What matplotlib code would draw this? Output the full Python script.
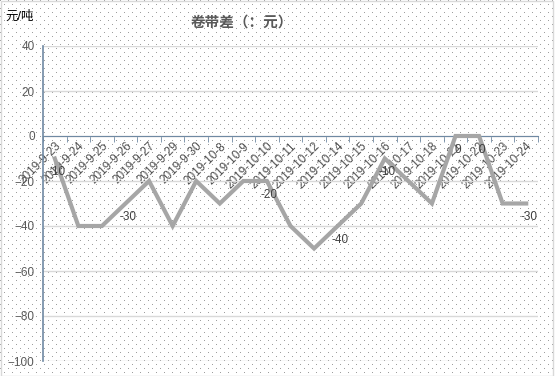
import numpy as np
import matplotlib
matplotlib.use('Agg')
import matplotlib.pyplot as plt
from matplotlib.ticker import FixedLocator

plt.rcParams['font.family'] = ['Liberation Sans', 'Noto Sans CJK SC', 'DejaVu Sans']

# datos
fechas = ['2019-9-23', '2019-9-24', '2019-9-25', '2019-9-26', '2019-9-27', '2019-9-29',
          '2019-9-30', '2019-10-8', '2019-10-9', '2019-10-10', '2019-10-11', '2019-10-12',
          '2019-10-14', '2019-10-15', '2019-10-16', '2019-10-17', '2019-10-18', '2019-10-21',
          '2019-10-22', '2019-10-23', '2019-10-24']
diferencia = [-10, -40, -40, -30, -20, -40, -20, -30, -20, -20, -40, -50,
              -40, -30, -10, -20, -30, 0, 0, -30, -30]
etiquetas = [0, 3, 9, 12, 14, 17, 18, 20]
y_ticks = [40, 20, 0, -20, -40, -60, -80, -100]

W, H = 556, 376
fig = plt.figure(figsize=(W / 100, H / 100), dpi=100)

# fondo punteado
fondo = np.ones((H, W, 3))
yy, xx = np.mgrid[0:H, 0:W]
puntos = ((yy % 8 == 0) & (xx % 8 == 0)) | ((yy % 8 == 4) & (xx % 8 == 4))
fondo[puntos] = [0.62, 0.62, 0.62]
fig.figimage(fondo, xo=0, yo=0, zorder=0)

ax = fig.add_axes([43 / W, 1 - 361 / H, (538 - 43) / W, (361 - 46) / H])
ax.set_zorder(2)
ax.patch.set_alpha(0)

x = np.arange(len(fechas))
ax.plot(x, diferencia, color='#a6a6a6', lw=3, solid_joinstyle='miter', zorder=3)

for i in etiquetas:
    ax.text(x[i] + 0.1, diferencia[i] - 3.5, str(diferencia[i]), ha='center', va='top',
            fontsize=8.5, color='#404040', zorder=4)

ax.set_xlim(-0.5, len(fechas) - 0.5)
ax.set_ylim(-100, 40)
ax.set_yticks(y_ticks)
ax.yaxis.grid(True, color='#d9d9d9', lw=1)
ax.set_axisbelow(True)

for s in ['top', 'right']:
    ax.spines[s].set_visible(False)
ax.spines['bottom'].set_position(('data', 0))
ax.spines['bottom'].set_color('#6f89a3')
ax.spines['left'].set_color('#6f89a3')
ax.spines['left'].set_linewidth(1.2)

ax.set_xticks(x)
ax.set_xticklabels(fechas, rotation=45, ha='right', va='top', rotation_mode='anchor',
                   fontsize=8.5, color='#505050')
for lbl in ax.get_xticklabels():
    lbl.set_x(lbl.get_position()[0])
ax.tick_params(axis='x', which='major', length=0, pad=3)
ax.xaxis.set_minor_locator(FixedLocator(np.arange(-0.5, len(fechas), 1)))
ax.tick_params(axis='x', which='minor', length=4, color='#6f89a3', direction='out')
ax.tick_params(axis='y', length=0, labelsize=8.5, labelcolor='#595959', pad=6)

fig.text(242 / W, 1 - 23 / H, '卷带差（：元）', ha='center', va='center', fontsize=10.5,
         fontweight='bold', color='#595959')
fig.text(5 / W, 1 - 17 / H, '元/吨', ha='left', va='center', fontsize=9, color='black')

# borde del grafico
fig.add_artist(plt.Rectangle((0.5 / W, 0.5 / H), 1 - 3.5 / W, 1 - 1.5 / H, transform=fig.transFigure,
                             fill=False, ec='#d9d9d9', lw=1))

fig.savefig('out.png', dpi=100)
